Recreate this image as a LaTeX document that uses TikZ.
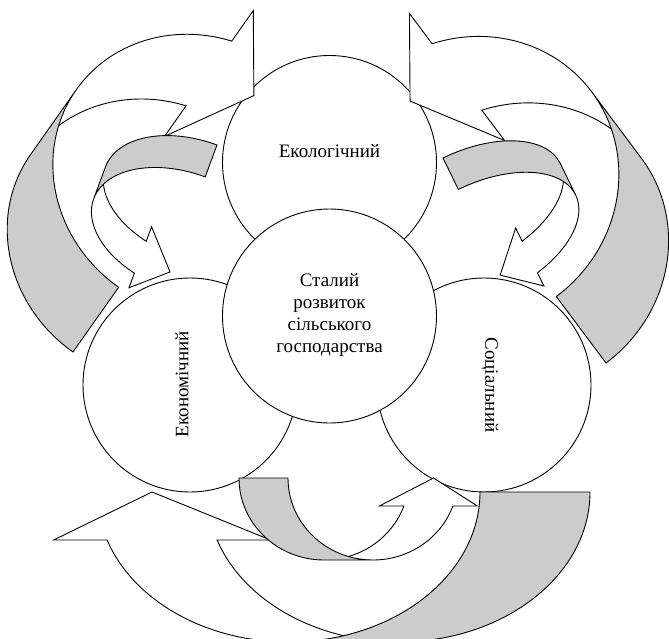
\documentclass[tikz,border=0pt]{standalone}
\usepackage{fontspec}
\setmainfont{Liberation Serif}
\definecolor{backgrey}{RGB}{204,204,204}

% curved arrow: placement, half width, depth, band, head depth, head width
\newcommand{\curvedarrow}[6]{%
  \begin{scope}[#1]
    \pgfmathsetmacro{\cadx}{#2*sqrt(1-(#5/#3)^2)}
    \pgfmathsetmacro{\casw}{asin(#5/#3)}
    \pgfmathsetmacro{\caiw}{acos(#4/(2*#2))}
    \pgfmathsetmacro{\cadh}{(#6-#4)/2}
    % front band with the head
    \fill[white] ({2*#2+#4/2},0) -- ({#2+#4+\cadx+\cadh},-#5) -- ({#2+#4+\cadx},-#5)
      arc[start angle=-\casw, end angle=-90, x radius=#2pt, y radius=#3pt] -- ++(-#4,0)
      arc[start angle=-90, end angle=-\casw, x radius=#2pt, y radius=#3pt]
      -- ({#2+\cadx-\cadh},-#5) -- cycle;
    % back band
    \filldraw[fill=backgrey] (0,0)
      arc[start angle=180, end angle=270, x radius=#2pt, y radius=#3pt] -- ++(#4,0)
      arc[start angle=270, end angle=180, x radius=#2pt, y radius=#3pt] -- cycle;
    % visible edges of the front band
    \draw ({#2+#2*cos(\caiw)},{-#3*sin(\caiw)})
      arc[start angle=-\caiw, end angle=-\casw, x radius=#2pt, y radius=#3pt]
      -- ({#2+\cadx-\cadh},-#5) -- ({2*#2+#4/2},0) -- ({#2+#4+\cadx+\cadh},-#5)
      -- ({#2+#4+\cadx},-#5)
      arc[start angle=-\casw, end angle=-90, x radius=#2pt, y radius=#3pt];
  \end{scope}}

\begin{document}
\begin{tikzpicture}[x=1pt, y=1pt, line width=0.9pt,
    disc/.style={circle, draw, fill=white, minimum size=214pt, inner sep=0pt},
    txt/.style={font=\fontsize{19}{22}\selectfont, align=center}]
  \useasboundingbox (0,0) rectangle (669,-639);
  \clip (0,0) rectangle (669,-639);

  % the four circles
  \node[disc] (ecol) at (329.5,-162.5) {};
  \node[disc] (econ) at (190,-385) {};
  \node[disc] (soc) at (484,-385) {};
  \node[disc] (core) at (329.5,-316) {};

  \node[txt] (ecoltxt) at (329.5,-151) {Екологічний};
  \node[txt, rotate=90] (econtxt) at (182,-384) {Економічний};
  \node[txt, rotate=-90] (soctxt) at (490,-385) {Соціальний};
  \node[txt] (coretxt) at (329.5,-315) {Сталий\\ розвиток\\ сільського\\ господарства};

  % outer arrows
  \curvedarrow{shift={(590,-492)}, xscale=-1}{191.5}{150}{110}{48}{217}
  \curvedarrow{shift={(73,-352)}, rotate=54.8, yscale=-1}{137.1}{148.5}{79.2}{49.5}{154}
  \curvedarrow{shift={(606,-363)}, rotate=126.8}{142.8}{151}{83}{52}{158.6}
  % inner arrows
  \curvedarrow{shift={(239,-478)}}{85}{82}{49}{28}{98}
  \curvedarrow{shift={(217,-145)}, rotate=-110.3}{59.2}{97}{34}{33}{65}
  \curvedarrow{shift={(443,-158)}, rotate=-64, yscale=-1}{56.4}{103}{35}{34.6}{64.5}
\end{tikzpicture}
\end{document}
